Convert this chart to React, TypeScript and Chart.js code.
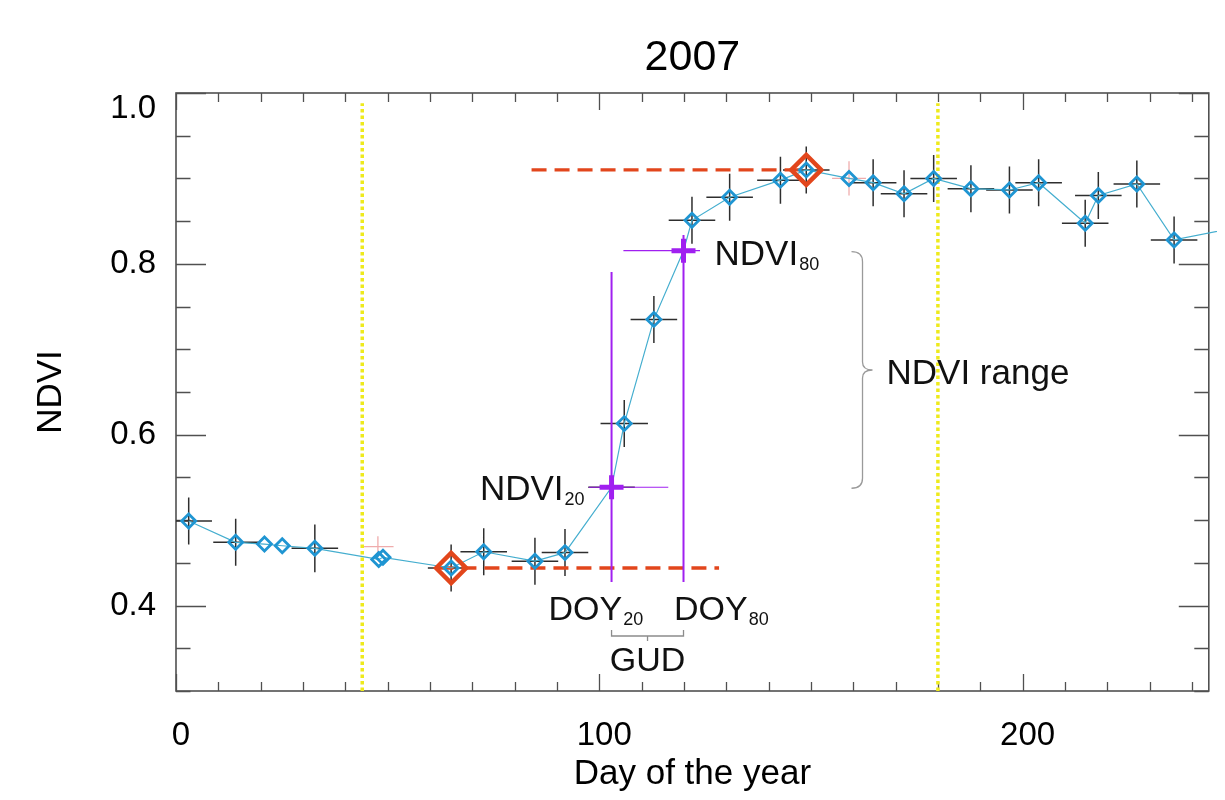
import React, { useEffect, useRef } from "react";
import { Chart, registerables } from "chart.js";

Chart.register(...registerables);

const FONT = "'Liberation Sans', Arial, Helvetica, sans-serif";

const TITLE = "2007";
const X_LABEL = "Day of the year";
const Y_LABEL = "NDVI";

// observed composites (day of year, NDVI) with their uncertainty half-widths
const obsDay = [3.0, 14.1, 20.9, 25.1, 32.8, 47.9, 48.9, 65.0, 72.7, 84.8, 91.9, 105.9, 112.9, 121.9, 130.8, 142.8, 148.9, 159.0, 164.7, 172.0, 179.0, 187.8, 196.9, 203.8, 214.8, 217.9, 227.0, 235.8, 250.0];
const obsNdvi = [0.499, 0.474, 0.472, 0.47, 0.467, 0.454, 0.4565, 0.444, 0.463, 0.452, 0.462, 0.613, 0.735, 0.851, 0.878, 0.898, 0.91, 0.9, 0.895, 0.882, 0.9, 0.888, 0.8865, 0.895, 0.8475, 0.88, 0.8935, 0.828, 0.842];
const obsDayErr = [5.5, 5.3, 0, 0, 5.5, 0, 0, 5.5, 5.5, 5.5, 5.5, 5.6, 5.5, 5.5, 5.5, 5.5, 5.5, 0, 5.5, 5.5, 5.5, 5.5, 5.5, 5.5, 5.5, 5.5, 5.5, 5.5, 0];
const obsNdviErr = [0.0275, 0.0275, 0, 0, 0.028, 0, 0, 0.0275, 0.0275, 0.0275, 0.0275, 0.0275, 0.0275, 0.0275, 0.0275, 0.0275, 0.0275, 0, 0.0275, 0.0275, 0.0275, 0.0275, 0.0275, 0.0275, 0.0275, 0.0275, 0.0275, 0.0275, 0];

// faint (rejected) estimates
const faintDay = [47.7, 159.0];
const faintNdvi = [0.469, 0.9];
const faintDayErr = [3.7, 4.0];
const faintNdviErr = [0.012, 0.02];

// thresholds
const thrNames = ["20", "80"];
const thrDay = [102.9, 119.9];
const thrNdvi = [0.5385, 0.8154];
const thrDayErr = [5.5, 0];
const thrSpanStart = [97.5, 105.7];
const thrSpanEnd = [116.3, 123.8];
const doyLineBottom = 0.4276;
const doyLineTop = [0.7905, 0.8338];

// min / max NDVI
const extremeDay = [65.0, 148.9];
const extremeNdvi = [0.444, 0.91];
const extremeLineStart = [62.0, 84.0];
const extremeLineEnd = [128.3, 148.9];

// yellow markers
const markerDays = [44, 180];
const markerNdviRange = [0.3, 0.988];

const X_MIN = 0;
const X_MAX = 244;
const Y_MIN = 0.3;
const Y_MAX = 1.0;

const BLUE = "#1f95d2";
const LINE_BLUE = "#45aecf";
const RED = "#e2461c";
const PURPLE = "#a020f0";
const YELLOW = "#eeea1c";
const FRAME = "#505050";

const obsPoints = obsDay.map((d, i) => ({ x: d, y: obsNdvi[i], xErr: obsDayErr[i], yErr: obsNdviErr[i] }));
const thrPoints = thrDay.map((d, i) => ({ x: d, y: thrNdvi[i], xErr: thrDayErr[i], yErr: 0 }));
const faintPoints = faintDay.map((d, i) => ({ x: d, y: faintNdvi[i], xErr: faintDayErr[i], yErr: faintNdviErr[i] }));
const curvePoints = [...obsPoints, ...thrPoints].sort((a, b) => a.x - b.x).map((p) => ({ x: p.x, y: p.y }));

const framePlugin = {
  id: "frameTicks",
  beforeDatasetsDraw(chart: any) {
    const { ctx, chartArea: a, scales } = chart;
    const xs = scales.x;
    const ys = scales.y;
    ctx.save();
    ctx.strokeStyle = FRAME;
    ctx.lineWidth = 1.3;
    ctx.beginPath();
    for (const t of xs.ticks) {
      const v = Math.round(t.value);
      const px = Math.round(xs.getPixelForValue(t.value)) + 0.5;
      const len = v % 100 === 0 ? 17 : 9;
      ctx.moveTo(px, a.bottom);
      ctx.lineTo(px, a.bottom - len);
      ctx.moveTo(px, a.top);
      ctx.lineTo(px, a.top + len);
    }
    for (const t of ys.ticks) {
      const c = Math.round(t.value * 100);
      const py = Math.round(ys.getPixelForValue(t.value)) + 0.5;
      const len = c % 20 === 0 ? 30 : 14.5;
      ctx.moveTo(a.left, py);
      ctx.lineTo(a.left + len, py);
      ctx.moveTo(a.right, py);
      ctx.lineTo(a.right - len, py);
    }
    ctx.stroke();
    ctx.lineWidth = 1.6;
    ctx.strokeRect(a.left, a.top, a.right - a.left, a.bottom - a.top);
    ctx.restore();
  },
};

const errorBarPlugin = {
  id: "errorBars",
  beforeDatasetsDraw(chart: any) {
    const { ctx, chartArea: a, scales } = chart;
    const xs = scales.x;
    const ys = scales.y;
    ctx.save();
    ctx.beginPath();
    ctx.rect(a.left, a.top, a.right - a.left, a.bottom - a.top);
    ctx.clip();
    chart.data.datasets.forEach((ds: any) => {
      if (!ds.errorColor) return;
      ctx.strokeStyle = ds.errorColor;
      ctx.lineWidth = ds.errorWidth || 1.4;
      ctx.beginPath();
      ds.data.forEach((p: any) => {
        const px = xs.getPixelForValue(p.x);
        const py = ys.getPixelForValue(p.y);
        if (p.xErr) {
          ctx.moveTo(xs.getPixelForValue(p.x - p.xErr), py);
          ctx.lineTo(xs.getPixelForValue(p.x + p.xErr), py);
        }
        if (p.yErr) {
          ctx.moveTo(px, ys.getPixelForValue(p.y - p.yErr));
          ctx.lineTo(px, ys.getPixelForValue(p.y + p.yErr));
        }
      });
      ctx.stroke();
    });
    ctx.restore();
  },
};

function drawSub(ctx: any, main: string, sub: string, left: number, base: number, size: number, subSize: number) {
  ctx.font = `${size}px ${FONT}`;
  ctx.fillText(main, left, base);
  const w = ctx.measureText(main).width;
  ctx.font = `${subSize}px ${FONT}`;
  ctx.fillText(sub, left + w + 1, base + 5);
}

function subWidth(ctx: any, main: string, sub: string, size: number, subSize: number) {
  ctx.font = `${size}px ${FONT}`;
  const w = ctx.measureText(main).width;
  ctx.font = `${subSize}px ${FONT}`;
  return w + 1 + ctx.measureText(sub).width;
}

const annotationPlugin = {
  id: "annotations",
  afterDatasetsDraw(chart: any) {
    const { ctx, scales } = chart;
    const X = (v: number) => scales.x.getPixelForValue(v);
    const Y = (v: number) => scales.y.getPixelForValue(v);
    ctx.save();
    ctx.fillStyle = "#111";
    ctx.textBaseline = "alphabetic";
    ctx.textAlign = "left";

    const x20 = X(thrDay[0]);
    const x80 = X(thrDay[1]);
    const y20 = Y(thrNdvi[0]);
    const y80 = Y(thrNdvi[1]);
    const yb = Y(doyLineBottom);

    drawSub(ctx, "NDVI", thrNames[1], x80 + 31, y80 + 14.5, 35, 18);
    const w20 = subWidth(ctx, "NDVI", thrNames[0], 35, 18);
    drawSub(ctx, "NDVI", thrNames[0], x20 - 27 - w20, y20 + 12.5, 35, 18);
    drawSub(ctx, "DOY", thrNames[0], x20 - 63, yb + 38, 34, 18);
    drawSub(ctx, "DOY", thrNames[1], x80 - 9.5, yb + 38, 34, 18);

    // GUD bracket
    ctx.strokeStyle = "#8c8c8c";
    ctx.lineWidth = 1.3;
    const gy = yb + 54;
    const gm = (x20 + x80) / 2;
    ctx.beginPath();
    ctx.moveTo(x20, gy - 6);
    ctx.lineTo(x20, gy);
    ctx.lineTo(x80, gy);
    ctx.lineTo(x80, gy - 6);
    ctx.moveTo(gm, gy);
    ctx.lineTo(gm, gy + 5);
    ctx.stroke();
    ctx.font = `34px ${FONT}`;
    ctx.textAlign = "center";
    ctx.fillText("GUD", gm, gy + 35.5);
    ctx.textAlign = "left";

    // NDVI range brace
    const bx = x80 + 168;
    const top = y80 + 1;
    const bot = y20 + 1;
    const mid = (top + bot) / 2;
    ctx.strokeStyle = "#9a9a9a";
    ctx.beginPath();
    ctx.moveTo(bx, top);
    ctx.quadraticCurveTo(bx + 11, top, bx + 11, top + 10);
    ctx.lineTo(bx + 11, mid - 8);
    ctx.quadraticCurveTo(bx + 11, mid, bx + 21, mid);
    ctx.quadraticCurveTo(bx + 11, mid, bx + 11, mid + 8);
    ctx.lineTo(bx + 11, bot - 10);
    ctx.quadraticCurveTo(bx + 11, bot, bx, bot);
    ctx.stroke();
    ctx.font = `35px ${FONT}`;
    ctx.fillText("NDVI range", bx + 35, mid + 14.5);
    ctx.restore();
  },
};

export default function App() {
  const ref = useRef<HTMLCanvasElement>(null);

  useEffect(() => {
    if (!ref.current) return;
    const datasets: any[] = [
      {
        label: "thresholds",
        data: thrPoints,
        showLine: false,
        pointStyle: "cross",
        pointRadius: 12,
        pointBorderWidth: 5,
        pointBorderColor: PURPLE,
        pointBackgroundColor: PURPLE,
        errorColor: "#333",
        errorWidth: 1.4,
      },
      {
        label: "extremes",
        data: extremeDay.map((d, i) => ({ x: d, y: extremeNdvi[i] })),
        showLine: false,
        pointStyle: "rectRot",
        pointRadius: 15,
        pointBorderWidth: 4.5,
        pointBorderColor: RED,
        pointBackgroundColor: "rgba(0,0,0,0)",
      },
      {
        label: "observed",
        data: obsPoints,
        showLine: false,
        pointStyle: "rectRot",
        pointRadius: 7,
        pointBorderWidth: 2.8,
        pointBorderColor: BLUE,
        pointBackgroundColor: "rgba(0,0,0,0)",
        errorColor: "#2e2e2e",
        errorWidth: 1.5,
      },
      {
        label: "faint",
        data: faintPoints,
        showLine: false,
        pointRadius: 0,
        errorColor: "rgba(220,70,70,0.45)",
        errorWidth: 1.3,
      },
      {
        label: "curve",
        data: curvePoints,
        borderColor: LINE_BLUE,
        borderWidth: 1.2,
        pointRadius: 0,
        tension: 0,
        clip: { left: 0, top: 0, right: 9, bottom: 0 },
      },
    ];
    thrDay.forEach((d, i) => {
      datasets.push({
        label: "doy" + thrNames[i],
        data: [
          { x: d, y: doyLineBottom },
          { x: d, y: doyLineTop[i] },
        ],
        borderColor: PURPLE,
        borderWidth: 2,
        pointRadius: 0,
      });
      datasets.push({
        label: "span" + thrNames[i],
        data: [
          { x: thrSpanStart[i], y: thrNdvi[i] },
          { x: thrSpanEnd[i], y: thrNdvi[i] },
        ],
        borderColor: PURPLE,
        borderWidth: 1.2,
        pointRadius: 0,
      });
    });
    extremeDay.forEach((_, i) => {
      datasets.push({
        label: "extremeLine" + i,
        data: [
          { x: extremeLineStart[i], y: extremeNdvi[i] },
          { x: extremeLineEnd[i], y: extremeNdvi[i] },
        ],
        borderColor: RED,
        borderWidth: 3.4,
        borderDash: [15, 8],
        pointRadius: 0,
      });
    });
    markerDays.forEach((d, i) => {
      datasets.push({
        label: "marker" + i,
        data: [
          { x: d, y: markerNdviRange[0] },
          { x: d, y: markerNdviRange[1] },
        ],
        borderColor: YELLOW,
        borderWidth: 3.5,
        borderDash: [3.5, 3],
        pointRadius: 0,
      });
    });

    const tickFont = { family: FONT, size: 33 };
    const chart = new Chart(ref.current, {
      type: "line",
      data: { datasets },
      plugins: [framePlugin, errorBarPlugin, annotationPlugin],
      options: {
        animation: false,
        responsive: true,
        maintainAspectRatio: false,
        layout: { autoPadding: false, padding: { left: 0, right: 8, top: 0, bottom: 0 } },
        plugins: {
          legend: { display: false },
          tooltip: { enabled: false },
          title: {
            display: true,
            text: TITLE,
            fullSize: false,
            color: "#000",
            font: { family: FONT, size: 43, weight: "normal" },
            padding: { top: 24, bottom: 9.4 },
          },
        },
        scales: {
          x: {
            type: "linear",
            min: X_MIN,
            max: X_MAX,
            grid: { display: false, drawTicks: false },
            border: { display: false },
            ticks: {
              stepSize: 10,
              autoSkip: false,
              includeBounds: false,
              maxRotation: 0,
              padding: 25,
              labelOffset: 5,
              color: "#000",
              font: tickFont,
              callback: (v: any) => (Math.round(v) % 100 === 0 ? String(Math.round(v)) : ""),
            },
            title: {
              display: true,
              text: X_LABEL,
              color: "#000",
              font: { family: FONT, size: 35, lineHeight: 1 },
              padding: { top: 0, bottom: 0 },
            },
            afterFit: (s: any) => {
              s.height = 101;
            },
          },
          y: {
            type: "linear",
            min: Y_MIN,
            max: Y_MAX,
            grid: { display: false, drawTicks: false },
            border: { display: false },
            ticks: {
              stepSize: 0.05,
              autoSkip: false,
              includeBounds: false,
              padding: 20,
              color: "#000",
              font: { family: FONT, size: 33, lineHeight: 0.95 },
              callback: (v: any) => {
                const c = Math.round(v * 100);
                if (c % 20 !== 0 || c < 40) return "";
                const s = (c / 100).toFixed(1);
                return c === 100 ? ["", s] : s;
              },
            },
            title: {
              display: true,
              text: Y_LABEL,
              color: "#000",
              font: { family: FONT, size: 35, lineHeight: 1 },
              padding: { top: 26, bottom: 0 },
            },
            afterFit: (s: any) => {
              s.width = 168;
            },
          },
        },
      } as any,
    });
    return () => chart.destroy();
  }, []);

  return (
    <div style={{ width: 1209, height: 784, position: "relative" }}>
      <canvas ref={ref} />
    </div>
  );
}
